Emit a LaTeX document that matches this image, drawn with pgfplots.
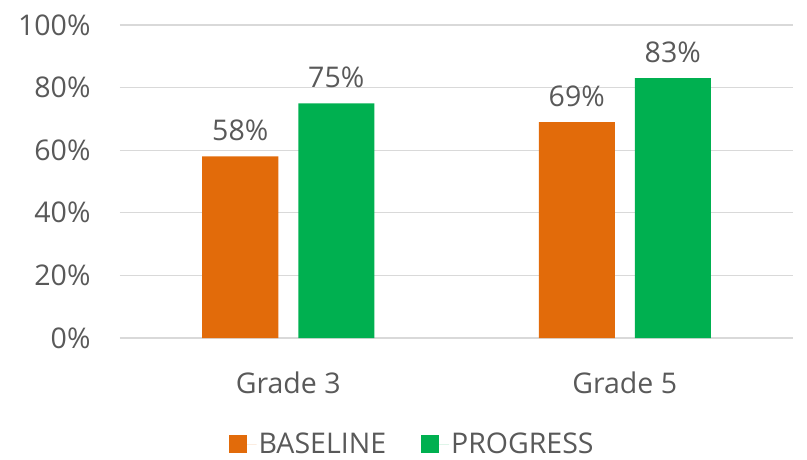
\documentclass[border=0pt]{standalone}
\usepackage{pgfplots}
\pgfplotsset{compat=1.18}
\usepackage{fontspec}
\setmainfont{Open Sans}
\definecolor{baselinecol}{HTML}{E26B0A}
\definecolor{progresscol}{HTML}{00B050}
\definecolor{txt}{HTML}{595959}
\definecolor{gridcol}{HTML}{D9D9D9}
\newcommand{\lblfont}{\fontsize{28.5}{28.5}\selectfont}

\begin{document}
\begin{tikzpicture}[x=1pt,y=1pt]
\begin{axis}[
  at={(120pt,121pt)}, anchor=south west,
  scale only axis, width=673pt, height=313pt,
  xmin=-0.5, xmax=1.5, ymin=0, ymax=100,
  /pgf/number format/assume math mode=true,
  ybar=20pt, bar width=76pt,
  xtick={0,1}, xticklabels={Grade 3, Grade 5},
  ytick={0,20,...,100},
  yticklabel={\pgfmathprintnumber{\tick}\%},
  axis line style={draw=none}, major tick length=0pt,
  ymajorgrids, grid style={gridcol, line width=1.3pt},
  tick label style={font=\lblfont, text=txt},
  yticklabel style={xshift=-26pt},
  xticklabel style={yshift=-30pt},
  nodes near coords={\pgfmathprintnumber{\pgfplotspointmeta}\%},
  point meta=y,
  nodes near coords style={font=\lblfont, text=txt, yshift=12pt},
  legend style={at={(0.434,-0.339)}, anchor=center, draw=none, fill=none,
    legend columns=2, font=\lblfont, text=txt,
    /tikz/every even column/.append style={column sep=33pt}},
  legend image code/.code={\fill[#1] (0pt,-9pt) rectangle (18pt,9pt);
    \path (18pt,0pt) -- (28pt,0pt);},
]
\addplot[fill=baselinecol, draw=none] coordinates {(0,58) (1,69)};
\addplot[fill=progresscol, draw=none] coordinates {(0,75) (1,83)};
\legend{BASELINE, PROGRESS}
\end{axis}
\pgfresetboundingbox
\path (0,0) rectangle (807,459);
\end{tikzpicture}
\end{document}
